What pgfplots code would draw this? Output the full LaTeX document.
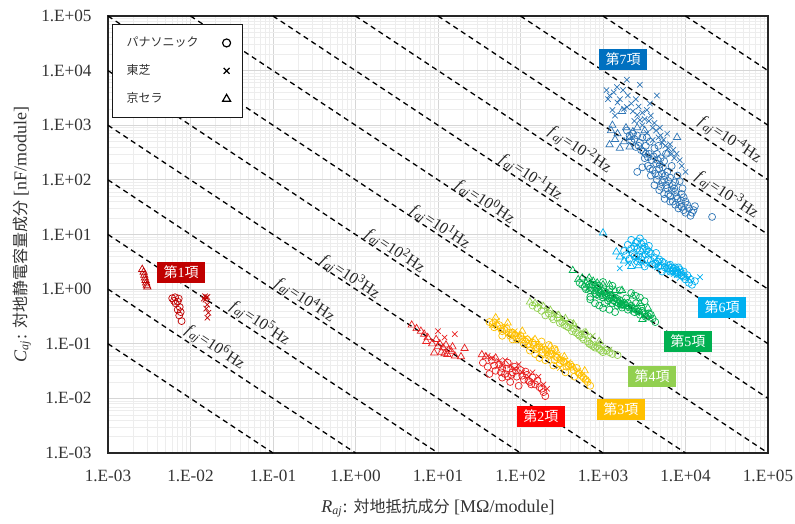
\documentclass[border=0pt]{standalone}
\usepackage{pgfplots}
\pgfplotsset{compat=1.18}
\usepackage{fontspec}
\setmainfont{Liberation Serif}
\newfontfamily\jp{Noto Sans CJK JP}

\definecolor{t1}{HTML}{C00000}
\definecolor{t2}{HTML}{E82020}
\definecolor{t3}{HTML}{FFC000}
\definecolor{t4}{HTML}{92D050}
\definecolor{t5}{HTML}{00B050}
\definecolor{t6}{HTML}{00B0F0}
\definecolor{t7}{HTML}{2E75B6}
\definecolor{b2}{HTML}{FF0000}
\definecolor{b7}{HTML}{0070C0}
\definecolor{txt}{HTML}{333333}

\pgfplotsset{
  circ/.style={only marks, mark=o, mark size=1.75pt, mark options={draw=#1, line width=0.35pt, fill=none}},
  cross/.style={only marks, mark=x, mark size=1.9pt, mark options={draw=#1, line width=0.35pt}},
  tri/.style={only marks, mark=triangle, mark size=2.1pt, mark options={draw=#1, line width=0.35pt, fill=none}},
  fline/.style={black, line width=0.65pt, dash pattern=on 2.6pt off 2pt, no marks},
}
\tikzset{
  kou/.style={fill=#1, text=white, minimum width=24pt, minimum height=10.5pt, inner sep=0pt,
              font=\fontsize{7}{7}\selectfont},
  flab/.style={rotate=-33.5, inner sep=0pt, font=\fontsize{8}{8}\selectfont, text=black!85},
}
\newcommand\kou[1]{{\jp 第}#1{\jp 項}}
\newcommand\flabel[1]{\textit{f}\textsubscript{\textit{aj}}=10\textsuperscript{#1}Hz}

\begin{document}
\begin{tikzpicture}
\begin{axis}[
  scale only axis, width=330pt, height=218.5pt,
  xmode=log, ymode=log,
  xmin=1e-3, xmax=1e5, ymin=1e-3, ymax=1e5,
  xtick={1e-3,1e-2,1e-1,1e0,1e1,1e2,1e3,1e4,1e5},
  ytick={1e-3,1e-2,1e-1,1e0,1e1,1e2,1e3,1e4,1e5},
  xticklabels={1.E-03,1.E-02,1.E-01,1.E+00,1.E+01,1.E+02,1.E+03,1.E+04,1.E+05},
  yticklabels={1.E-03,1.E-02,1.E-01,1.E+00,1.E+01,1.E+02,1.E+03,1.E+04,1.E+05},
  minor xtick={2e-3,3e-3,4e-3,5e-3,6e-3,7e-3,8e-3,9e-3,
               2e-2,3e-2,4e-2,5e-2,6e-2,7e-2,8e-2,9e-2,
               0.2,0.3,0.4,0.5,0.6,0.7,0.8,0.9,
               2,3,4,5,6,7,8,9,20,30,40,50,60,70,80,90,
               200,300,400,500,600,700,800,900,
               2000,3000,4000,5000,6000,7000,8000,9000,
               20000,30000,40000,50000,60000,70000,80000,90000},
  minor ytick={2e-3,3e-3,4e-3,5e-3,6e-3,7e-3,8e-3,9e-3,
               2e-2,3e-2,4e-2,5e-2,6e-2,7e-2,8e-2,9e-2,
               0.2,0.3,0.4,0.5,0.6,0.7,0.8,0.9,
               2,3,4,5,6,7,8,9,20,30,40,50,60,70,80,90,
               200,300,400,500,600,700,800,900,
               2000,3000,4000,5000,6000,7000,8000,9000,
               20000,30000,40000,50000,60000,70000,80000,90000},
  grid=both,
  major grid style={draw=black!16, line width=0.45pt},
  minor grid style={draw=black!7, line width=0.3pt},
  major tick length=0pt, minor tick length=0pt,
  axis line style={draw=black!85, line width=0.7pt},
  ticklabel style={font=\fontsize{8.6}{8.6}\selectfont, text=txt, inner sep=0pt},
  xticklabel style={anchor=center, yshift=-11.5pt},
  yticklabel style={anchor=east, xshift=-8pt},
  every axis x label/.style={at={(axis description cs:0.5,-0.1259)}, anchor=center},
  every axis y label/.style={at={(axis description cs:-0.1303,0.5)}, anchor=center, rotate=90},
  label style={font=\fontsize{9}{9}\selectfont, text=txt},
  xlabel={\textit{R}\textsubscript{\textit{aj}}: {\jp\fontsize{8}{8}\selectfont 対地抵抗成分} [MΩ/module]},
  ylabel={\textit{C}\textsubscript{\textit{aj}}: {\jp\fontsize{8}{8}\selectfont 対地静電容量成分} [nF/module]},
  legend style={at={(axis description cs:0,1)}, anchor=north west, xshift=2pt, yshift=-4pt,
    draw=black!90, line width=0.6pt, fill=white, inner xsep=6pt, inner ysep=5pt,
    font=\jp\fontsize{6}{6}\selectfont, text=txt, row sep=5.5pt,
    nodes={inner sep=1pt},
    /tikz/every odd column/.append style={column sep=11pt}},
  legend cell align=left, legend plot pos=right,
]

% legend entries: maker symbols
\addlegendimage{only marks, mark=o, mark size=2pt, mark options={draw=black, line width=0.6pt}}
\addlegendentry{パナソニック}
\addlegendimage{only marks, mark=x, mark size=2.1pt, mark options={draw=black, line width=0.6pt}}
\addlegendentry{東芝}
\addlegendimage{only marks, mark=triangle, mark size=2.3pt, mark options={draw=black, line width=0.6pt}}
\addlegendentry{京セラ}

% ---- term 1
\addplot[tri=t1, forget plot] coordinates {(2.6e-3,2.3) (2.7e-3,2.05) (2.75e-3,1.8) (2.8e-3,1.6) (2.85e-3,1.45) (2.9e-3,1.3) (2.95e-3,1.18) (3.0e-3,1.1)};
\addplot[circ=t1, forget plot] coordinates {(6.0e-3,0.68) (6.5e-3,0.71) (7.2e-3,0.67) (6.3e-3,0.61) (7.0e-3,0.59) (6.6e-3,0.55) (7.4e-3,0.47) (7.0e-3,0.42) (7.6e-3,0.38) (7.3e-3,0.33) (7.8e-3,0.26)};
\addplot[cross=t1, forget plot] coordinates {(1.5e-2,0.74) (1.55e-2,0.70) (1.6e-2,0.72) (1.45e-2,0.67) (1.52e-2,0.64) (1.6e-2,0.52) (1.55e-2,0.44) (1.65e-2,0.37) (1.6e-2,0.30)};

% ---- term 2
\addplot[tri=t2, forget plot] coordinates {(4.8,0.22) (5.5,0.19) (6.2,0.17) (6.8,0.15) (7.5,0.13) (7.2,0.11) (8.5,0.10) (9.5,0.12) (10.5,0.10) (11.5,0.085) (12.5,0.095) (13.5,0.078) (14.5,0.072) (12,0.066) (16,0.060) (19,0.058) (21,0.082) (11,0.070) (13,0.064) (9,0.068) (15,0.088) (10,0.09) (34,0.063) (38,0.058) (50,0.055)};
\addplot[cross=t2, forget plot] coordinates {(10,0.17) (16,0.15) (12,0.13) (40,0.060) (45,0.055) (55,0.048) (65,0.050) (75,0.040) (85,0.035) (105,0.030) (125,0.025) (140,0.030) (165,0.025) (190,0.018) (210,0.015) (95,0.042) (60,0.040)};
\addplot[circ=t2, forget plot] coordinates {(35,0.045) (40,0.038) (45,0.05) (50,0.032) (55,0.042) (60,0.036) (65,0.028) (70,0.045) (80,0.030) (90,0.025) (100,0.033) (110,0.022) (120,0.027) (130,0.020) (140,0.024) (150,0.018) (170,0.016) (190,0.013) (200,0.011) (75,0.020) (95,0.017) (60,0.024) (115,0.031) (160,0.021) (42,0.028) (85,0.038)
  (48,0.04) (58,0.030) (68,0.035) (78,0.027) (88,0.032) (105,0.026) (125,0.021) (135,0.018) (180,0.015) (70,0.025)};

% ---- term 3
\addplot[circ=t3, forget plot] coordinates {(42,0.25) (48,0.20) (55,0.22) (60,0.17) (68,0.19) (75,0.14) (80,0.16) (90,0.12) (100,0.14) (110,0.10) (120,0.12) (130,0.09) (140,0.105) (155,0.08) (170,0.09) (185,0.068) (200,0.078) (220,0.06) (240,0.066) (260,0.05) (280,0.056) (300,0.044) (330,0.048) (360,0.038) (400,0.042) (440,0.033) (480,0.036) (520,0.028) (580,0.024) (650,0.02) (700,0.017) (450,0.025) (350,0.030) (250,0.040)
  (46,0.23) (52,0.21) (58,0.19) (64,0.18) (72,0.16) (78,0.15) (86,0.14) (95,0.13) (105,0.12) (115,0.11) (125,0.10) (145,0.095) (160,0.085) (180,0.078) (210,0.07) (230,0.065) (270,0.058) (310,0.05) (340,0.045) (380,0.04) (420,0.038) (500,0.03) (550,0.026) (620,0.022)
  (60,0.14) (80,0.12) (130,0.075) (150,0.065) (170,0.055) (200,0.05) (180,0.11) (220,0.095) (260,0.08)};
\addplot[cross=t3, forget plot] coordinates {(45,0.22) (52,0.26) (65,0.21) (85,0.17) (95,0.15) (115,0.13) (135,0.12) (160,0.10) (190,0.085) (210,0.072) (250,0.07) (290,0.06) (320,0.052) (380,0.046) (420,0.037) (500,0.032) (560,0.027) (300,0.036)};
\addplot[tri=t3, forget plot] coordinates {(50,0.30) (70,0.24) (105,0.17) (150,0.12) (230,0.09) (270,0.075) (340,0.058) (600,0.032) (620,0.022)};

% ---- term 4
\addplot[circ=t4, forget plot] coordinates {(140,0.50) (160,0.45) (180,0.40) (200,0.33) (220,0.36) (250,0.28) (280,0.30) (300,0.24) (340,0.22) (380,0.20) (420,0.17) (470,0.16) (520,0.14) (580,0.12) (650,0.11) (720,0.095) (800,0.085) (900,0.08) (1000,0.07) (1100,0.075) (1300,0.065) (1500,0.062) (600,0.15) (400,0.24)
  (240,0.31) (320,0.25) (360,0.21) (440,0.19) (500,0.15) (560,0.13) (680,0.10) (760,0.09) (850,0.09) (950,0.075) (1200,0.07)};
\addplot[cross=t4, forget plot] coordinates {(170,0.52) (210,0.42) (260,0.35) (320,0.28) (360,0.25) (450,0.21) (550,0.17) (700,0.12) (850,0.10) (1000,0.085) (1200,0.078) (750,0.14)};
\addplot[tri=t4, forget plot] coordinates {(130,0.58) (150,0.55) (190,0.48) (230,0.41) (290,0.33) (350,0.29) (440,0.23) (620,0.16) (900,0.11)};

% ---- term 5
\addplot[circ=t5, forget plot] coordinates {(520,1.3) (600,1.1) (650,1.4) (700,0.95) (750,1.2) (800,0.85) (850,1.05) (900,0.75) (950,0.95) (1000,0.70) (1100,0.85) (1150,0.62) (1250,0.78) (1300,0.55) (1400,0.70) (1500,0.50) (1600,0.62) (1700,0.46) (1800,0.56) (2000,0.42) (2200,0.50) (2400,0.38) (2600,0.44) (2800,0.34) (3000,0.40) (3300,0.31) (3600,0.36) (4000,0.29) (4300,0.25) (1200,1.0) (900,1.15) (1900,0.68) (2500,0.55) (700,0.72) (1050,0.55)
  (560,1.2) (620,1.0) (680,1.2) (730,1.05) (780,0.95) (830,0.8) (880,0.9) (930,0.85) (980,0.78) (1050,0.9) (1100,0.75) (1200,0.68) (1300,0.72) (1350,0.62) (1450,0.58) (1550,0.55) (1650,0.52) (1750,0.52) (1900,0.5) (2100,0.46) (2300,0.44) (2700,0.39) (3200,0.35) (3500,0.32) (3800,0.34) (2000,0.56) (1500,0.66) (1200,0.88) (800,1.2) (2900,0.48)
  (900,0.5) (1000,0.45) (800,0.55) (1200,0.42) (1400,0.38) (700,0.65) (2800,0.7) (2500,0.75) (3200,0.6) (2200,0.85) (1000,1.35) (1300,1.15) (1600,0.95)};
\addplot[cross=t5, forget plot] coordinates {(650,1.0) (800,1.1) (950,0.8) (1100,0.7) (1300,0.65) (1450,0.58) (1600,0.52) (1800,0.48) (2100,0.45) (2300,0.40) (2600,0.36) (3200,0.33) (3800,0.30) (1000,0.9) (1700,0.6)
  (900,0.95) (1200,0.8) (1400,0.75) (1550,0.65) (1750,0.56) (1950,0.5) (2200,0.48) (2500,0.42) (2800,0.38) (1250,0.58) (3400,0.36)};
\addplot[tri=t5, forget plot] coordinates {(430,2.2) (500,1.5) (560,1.6) (620,1.3) (680,1.6) (760,1.4) (850,1.3) (1000,1.2) (1200,1.2) (1400,0.95) (1700,0.95) (2300,0.75) (2800,0.55) (3500,0.45) (3000,0.28)};

% ---- term 6
\addplot[circ=t6, forget plot] coordinates {(2200,8.0) (2600,7.5) (2000,6.5) (2400,6.0) (2900,6.8) (3200,6.0) (1800,5.0) (2300,4.5) (2800,5.0) (3400,5.2) (3800,4.5) (3000,4.0) (2100,3.6) (2600,3.2) (3500,3.5) (4200,3.8) (4600,3.2) (4000,2.8) (5000,2.7) (5500,3.0) (6000,2.4) (6500,2.8) (7000,2.2) (7500,2.5) (8000,2.0) (8500,2.3) (9000,1.8) (10000,1.5) (11000,1.3) (12000,1.2) (9500,2.1) (3200,2.6) (5200,2.1) (2700,4.0) (4400,4.6)
  (2500,7.0) (2800,8.5) (3100,7.2) (2200,5.5) (2600,5.5) (3000,5.5) (3600,4.8) (3300,4.3) (2400,4.0) (2900,3.5) (3800,3.3) (4300,3.0) (4800,3.5) (5200,3.2) (4700,2.6) (5600,2.5) (6200,2.7) (6800,2.5) (7200,2.4) (7700,2.2) (8200,2.5) (8800,2.0) (9500,1.7) (10500,1.8) (11500,1.5) (13000,1.4) (6500,2.1) (7800,1.9) (1900,4.2) (3600,6.2)};
\addplot[cross=t6, forget plot] coordinates {(1600,2.4) (2000,3.0) (3000,3.0) (5800,2.2) (6500,2.0) (7200,1.9) (7800,1.8) (8500,1.6) (15000,1.66) (4500,2.5) (10000,1.7)
  (5000,2.9) (6000,2.6) (7000,2.3) (8000,2.2) (9000,2.0) (11000,1.6) (3500,2.8) (2500,3.4)};
\addplot[tri=t6, forget plot] coordinates {(1000,10.7) (1450,4.8) (1600,3.9) (1800,3.3) (2200,2.6) (2700,2.7)};

% ---- term 7
\addplot[circ=t7, forget plot] coordinates {(1950,800) (2300,700) (2600,650) (3000,600) (2200,520) (2800,480) (3300,420) (3700,500) (2500,400) (3100,330) (3600,300) (4200,380) (4500,300) (5000,250) (3900,230) (4400,200) (5500,220) (3500,180) (4000,150) (4800,160) (5200,130) (6000,140) (3800,120) (4500,100) (5500,100) (6500,110) (4200,80) (5000,75) (6000,70) (7000,80) (7500,60) (5500,55) (6500,50) (8000,45) (9000,55) (7000,40) (8500,35) (10000,40) (11000,30) (9500,28) (12000,25) (13000,33) (7500,90) (2600,140) (3000,170) (21000,21) (6800,180) (5800,300) (8000,120) (3200,250) (4700,420)
  (2400,560) (2700,420) (2900,350) (3300,300) (3500,260) (4100,270) (4600,230) (4900,190) (5300,170) (3700,160) (4300,130) (4700,120) (5700,120) (6200,95) (5200,90) (4800,65) (5800,80) (6800,65) (7300,70) (6200,55) (7800,50) (8800,42) (9500,48) (7500,35) (8200,30) (9000,32) (10500,35) (10000,25) (11500,22) (12500,28) (6500,40) (5600,45) (9200,70) (8500,95) (3400,600) (2100,650)};
\addplot[cross=t7, forget plot] coordinates {(1100,4400) (1480,5000) (1950,6800) (1750,4400) (2800,5500) (4500,3500) (1300,1900) (1950,2150) (3400,1900) (2800,1250) (4900,900) (5400,540) (7100,355) (4000,540) (8500,230) (3400,720) (2600,1550) (1200,3500) (1600,3000) (2200,2500) (3800,1500) (4200,1100) (6000,700) (6500,450) (3000,1000) (5000,650) (7800,300) (9000,180) (10000,140)
  (1150,3000) (1350,4000) (1500,2600) (1800,2000) (2000,3500) (2300,1800) (2500,3000) (2700,2200) (3000,1700) (3200,1300) (3600,1200) (4000,900) (4400,800) (4700,600) (5200,480) (5700,420) (6200,380) (6800,300) (7300,250) (3700,2500) (2400,1200) (1400,1500)};
\addplot[tri=t7, forget plot] coordinates {(1300,1000) (1200,440) (1600,380) (2100,400) (2300,760) (2100,600) (6000,310) (7900,600) (1500,700) (1700,1800)
  (1250,800) (1400,550) (1800,500) (1900,900) (2600,900) (3200,800)};

% ---- constant-frequency lines, R*C = const
\addplot[fline, forget plot] coordinates {(1e-3,1e-1) (1e-1,1e-3)};
\addplot[fline, forget plot] coordinates {(1e-3,1) (1,1e-3)};
\addplot[fline, forget plot] coordinates {(1e-3,10) (10,1e-3)};
\addplot[fline, forget plot] coordinates {(1e-3,100) (100,1e-3)};
\addplot[fline, forget plot] coordinates {(1e-3,1e3) (1e3,1e-3)};
\addplot[fline, forget plot] coordinates {(1e-3,1e4) (1e4,1e-3)};
\addplot[fline, forget plot] coordinates {(1e-3,1e5) (1e5,1e-3)};
\addplot[fline, forget plot] coordinates {(1e-2,1e5) (1e5,1e-2)};
\addplot[fline, forget plot] coordinates {(1e-1,1e5) (1e5,1e-1)};
\addplot[fline, forget plot] coordinates {(1,1e5) (1e5,1)};
\addplot[fline, forget plot] coordinates {(10,1e5) (1e5,10)};
\addplot[fline, forget plot] coordinates {(100,1e5) (1e5,100)};
\addplot[fline, forget plot] coordinates {(1e3,1e5) (1e5,1e3)};
\addplot[fline, forget plot] coordinates {(1e4,1e5) (1e5,1e4)};

% line labels
\node[flab] at (axis cs:0.0198,0.0867) {\flabel{6}};
\node[flab] at (axis cs:0.0695,0.238) {\flabel{5}};
\node[flab] at (axis cs:0.244,0.63) {\flabel{4}};
\node[flab] at (axis cs:0.857,1.66) {\flabel{3}};
\node[flab] at (axis cs:3.01,4.97) {\flabel{2}};
\node[flab] at (axis cs:10.6,13.7) {\flabel{1}};
\node[flab] at (axis cs:37.1,39.2) {\flabel{0}};
\node[flab] at (axis cs:134,112) {\flabel{-1}};
\node[flab] at (axis cs:526,352) {\flabel{-2}};
\node[flab] at (axis cs:31800,52.7) {\flabel{-3}};
\node[flab] at (axis cs:34600,536) {\flabel{-4}};

% term tags
\node[kou=t1] at (axis cs:7.7e-3,2.05) {\kou{1}};
\node[kou=b2] at (axis cs:177,4.7e-3) {\kou{2}};
\node[kou=t3] at (axis cs:1650,6.3e-3) {\kou{3}};
\node[kou=t4] at (axis cs:3930,0.0255) {\kou{4}};
\node[kou=t5] at (axis cs:10700,0.112) {\kou{5}};
\node[kou=t6] at (axis cs:27700,0.468) {\kou{6}};
\node[kou=b7] at (axis cs:1750,16300) {\kou{7}};
\end{axis}
\pgfresetboundingbox
\path (-54pt,-35pt) rectangle (343.5pt,226.5pt);
\end{tikzpicture}
\end{document}
